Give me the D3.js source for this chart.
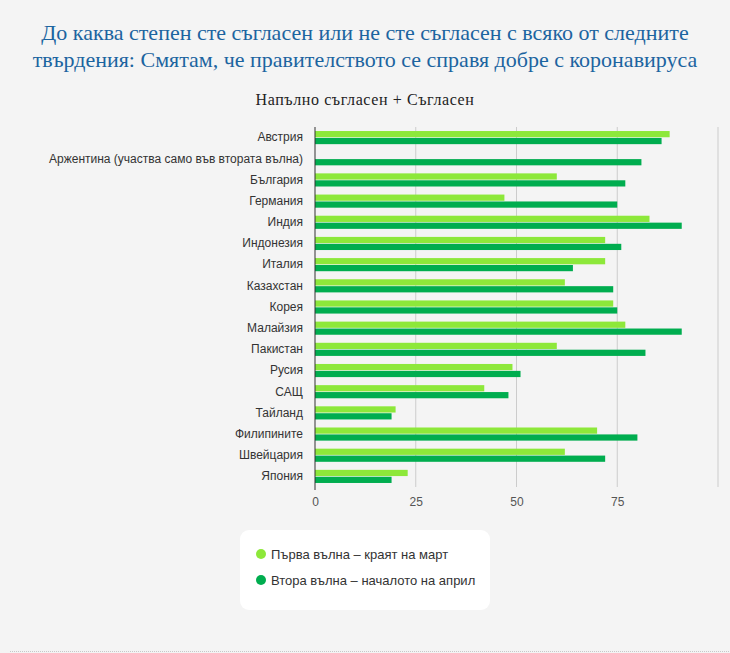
<!DOCTYPE html>
<html lang="bg">
<head>
    <meta charset="UTF-8">
    <title>covid_government</title>
    <style>
        body { margin: 0; background: #f4f4f4; }
        svg { display: block; }
    </style>
</head>
<body>
    <div id="chart"></div>

    <script src="https://d3js.org/d3.v7.min.js"></script>
    <script>
        // data
        var countries = ["Австрия", "Аржентина (участва само във втората вълна)", "България", "Германия",
            "Индия", "Индонезия", "Италия", "Казахстан", "Корея", "Малайзия", "Пакистан", "Русия",
            "САЩ", "Тайланд", "Филипините", "Швейцария", "Япония"];
        var firstWave = [88, null, 60, 47, 83, 72, 72, 62, 74, 77, 60, 49, 42, 20, 70, 62, 23];
        var secondWave = [86, 81, 77, 75, 91, 76, 64, 74, 75, 91, 82, 51, 48, 19, 80, 72, 19];
        var seriesNames = ["Първа вълна – краят на март", "Втора вълна – началото на април"];
        var xTicks = [0, 25, 50, 75];

        var W = 730, H = 653;
        var margin = {top: 127, left: 315, right: 12, bottom: 166};
        var plotW = 718 - margin.left;
        var plotH = 487 - margin.top;
        var colors = ["#8de83a", "#00ad4f"];

        var svg = d3.select("#chart").append("svg")
            .attr("width", W)
            .attr("height", H);

        // title
        var title = svg.append("text")
            .attr("text-anchor", "middle")
            .style("font-family", "'Liberation Serif', serif")
            .style("font-size", "22px")
            .style("fill", "#1c64a0");
        title.append("tspan").attr("x", W / 2).attr("y", 40)
            .text("До каква степен сте съгласен или не сте съгласен с всяко от следните");
        title.append("tspan").attr("x", W / 2).attr("y", 67)
            .text("твърдения: Смятам, че правителството се справя добре с коронавируса");

        svg.append("text")
            .attr("x", W / 2)
            .attr("y", 105)
            .attr("text-anchor", "middle")
            .style("font-family", "'Liberation Serif', serif")
            .style("font-size", "16px")
            .style("letter-spacing", "0.6px")
            .style("fill", "#222")
            .text("Напълно съгласен + Съгласен");

        var g = svg.append("g")
            .attr("transform", "translate(" + margin.left + "," + margin.top + ")");

        var x = d3.scaleLinear().domain([0, 100]).range([0, plotW]);
        var y = d3.scaleBand().domain(countries).range([0, plotH]).paddingInner(0.38).paddingOuter(0.19);
        var inner = d3.scaleBand().domain([0, 1]).range([0, y.bandwidth()]).paddingInner(0.1);

        // gridlines
        g.selectAll(".grid")
            .data([25, 50, 75, 100])
            .enter()
            .append("line")
            .attr("x1", function(d) { return x(d); })
            .attr("x2", function(d) { return x(d); })
            .attr("y1", 0)
            .attr("y2", plotH)
            .style("stroke", "#cccccc")
            .style("stroke-width", 1);

        // bars
        var series = [firstWave, secondWave];
        series.forEach(function(values, s) {
            g.selectAll(".bar" + s)
                .data(countries.map(function(c, i) { return {c: c, v: values[i]}; })
                    .filter(function(d) { return d.v != null; }))
                .enter()
                .append("rect")
                .attr("x", 0)
                .attr("y", function(d) { return y(d.c) + inner(s); })
                .attr("width", function(d) { return x(d.v); })
                .attr("height", inner.bandwidth())
                .style("fill", colors[s]);
        });

        // y axis
        var yAxis = g.append("g")
            .call(d3.axisLeft(y).tickSize(0).tickPadding(12));
        yAxis.select(".domain").remove();
        yAxis.selectAll("text")
            .style("font-family", "'Liberation Sans', Arial, sans-serif")
            .style("font-size", "12px")
            .style("fill", "#333");
        g.append("line")
            .attr("x1", 0).attr("x2", 0)
            .attr("y1", 0).attr("y2", plotH + 3)
            .style("stroke", "#333")
            .style("stroke-width", 1);

        // x axis
        var xAxis = g.append("g")
            .attr("transform", "translate(0," + plotH + ")")
            .call(d3.axisBottom(x).tickValues(xTicks).tickSize(0).tickPadding(10));
        xAxis.select(".domain").remove();
        xAxis.selectAll("text")
            .style("font-family", "'Liberation Sans', Arial, sans-serif")
            .style("font-size", "12px")
            .style("fill", "#555");

        // legend
        var legend = svg.append("g").attr("transform", "translate(240,530)");
        legend.append("rect")
            .attr("width", 250)
            .attr("height", 80)
            .attr("rx", 9)
            .style("fill", "#ffffff");
        seriesNames.forEach(function(name, i) {
            legend.append("circle")
                .attr("cx", 21)
                .attr("cy", 24 + i * 26)
                .attr("r", 5)
                .style("fill", colors[i]);
            legend.append("text")
                .attr("x", 31)
                .attr("y", 28.5 + i * 26)
                .style("font-family", "'Liberation Sans', Arial, sans-serif")
                .style("font-size", "13px")
                .style("fill", "#333")
                .text(name);
        });

        // dotted line at the bottom
        svg.append("line")
            .attr("x1", 10).attr("x2", W)
            .attr("y1", 651.5).attr("y2", 651.5)
            .style("stroke", "#c8c8c8")
            .style("stroke-dasharray", "1,1");
    </script>
</body>
</html>
